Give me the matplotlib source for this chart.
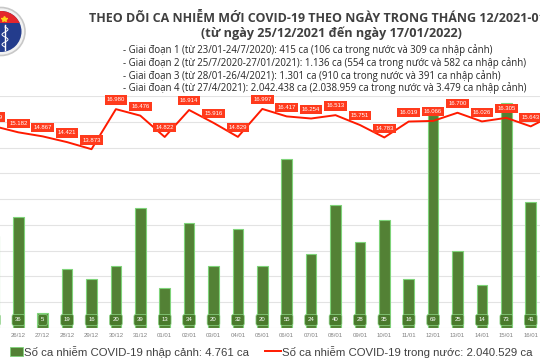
import matplotlib
matplotlib.use("Agg")
import matplotlib.pyplot as plt
import numpy as np
from matplotlib.patches import Circle, Rectangle

# data
dates = ["25/12", "26/12", "27/12", "28/12", "29/12", "30/12", "31/12",
         "01/01", "02/01", "03/01", "04/01", "05/01", "06/01", "07/01",
         "08/01", "09/01", "10/01", "11/01", "12/01", "13/01", "14/01",
         "15/01", "16/01", "17/01"]
imported = [30, 36, 5, 19, 16, 20, 39, 13, 34, 20, 32, 20, 55, 24, 40, 28,
            35, 16, 69, 25, 14, 73, 41, np.nan]
domestic = [15659, 15182, 14867, 14421, 13873, 16980, 16476, 14822, 16914,
            15916, 14829, 16997, 16417, 16254, 16513, 15751, 14783, 16019,
            16066, 16700, 16026, 16305, 15643, 16600]

title = "THEO DÕI CA NHIỄM MỚI COVID-19 THEO NGÀY TRONG THÁNG 12/2021-01/2022"
subtitle = "(từ ngày 25/12/2021 đến ngày 17/01/2022)"
phases = [
    "- Giai đoạn 1 (từ 23/01-24/7/2020): 415 ca (106 ca trong nước và 309 ca nhập cảnh)",
    "- Giai đoạn 2 (từ 25/7/2020-27/01/2021): 1.136 ca (554 ca trong nước và 582 ca nhập cảnh)",
    "- Giai đoạn 3 (từ 28/01-26/4/2021): 1.301 ca (910 ca trong nước và 391 ca nhập cảnh)",
    "- Giai đoạn 4 (từ 27/4/2021): 2.042.438 ca (2.038.959 ca trong nước và 3.479 ca nhập cảnh)",
]
leg_bar = "Số ca nhiễm COVID-19 nhập cảnh: 4.761 ca"
leg_line = "Số ca nhiễm COVID-19 trong nước: 2.040.529 ca"

bar_col = "#538135"
bar_edge = "#7fd47a"
red = "#ff1a00"
lab_red = "#ff3a1c"

def fmt(v):
    return "{:,}".format(v).replace(",", ".")

fig = plt.figure(figsize=(5.4, 3.6), dpi=100)
W, H = 540, 360
bot, top = 328, 96
ax = fig.add_axes([0, (H - bot) / H, 1, (bot - top) / H])
ax2 = ax.twinx()

x = np.arange(len(dates))
bar_top = 75.3
line_top = 18000
xlim = (0.25, 0.25 + 540 / 24.4)

ax.bar(x, imported, width=0.43, color=bar_col, edgecolor=bar_edge, linewidth=0.8, zorder=2)
ax.set_ylim(0, bar_top)
grid_vals = np.arange(0, line_top + 1, 2000)
ax.set_yticks(grid_vals * bar_top / line_top)
ax.yaxis.grid(True, color="#e3e3e3", linewidth=0.8, zorder=0)
ax.set_axisbelow(True)
ax.tick_params(axis="y", length=0, labelleft=False)
ax.set_xticks(x)
ax.set_xticklabels(dates, fontsize=4.3, color="#808080", family="Liberation Sans")
ax.tick_params(axis="x", length=0, pad=3.5)
for s in ax.spines.values():
    s.set_visible(False)

for i, v in enumerate(imported):
    if np.isnan(v):
        continue
    ax.annotate(str(v), xy=(i, 0), xytext=(0, 5.8), textcoords="offset points",
                ha="center", va="center", fontsize=4.3, color="white",
                family="Liberation Sans", zorder=3, annotation_clip=False,
                bbox=dict(boxstyle="round,pad=0.5,rounding_size=0.3",
                          fc="#4a7a2c", ec="#8fd98a", lw=0.5))

ax2.plot(x, domestic, color=red, linewidth=1.4, zorder=3)
ax2.set_ylim(0, line_top)
ax2.set_yticks([])
for s in ax2.spines.values():
    s.set_visible(False)
for i, v in enumerate(domestic):
    if i > xlim[1]:
        continue  # label of the last day falls outside the picture
    ax2.annotate(fmt(v), xy=(i, v), xytext=(0, 6.6), textcoords="offset points",
                 ha="center", va="center", fontsize=4.3, color="white",
                 family="Liberation Sans", zorder=4, annotation_clip=False,
                 bbox=dict(boxstyle="square,pad=0.35", fc=lab_red, ec="none"))

ax.set_xlim(xlim)
ax2.set_xlim(xlim)

# overlay in pixel coordinates for texts and logo
ov = fig.add_axes([0, 0, 1, 1], zorder=5)
ov.set_xlim(0, W)
ov.set_ylim(H, 0)
ov.axis("off")

ov.text(89, 21.7, title, fontsize=9.0, fontweight="bold", color="#404040",
        family=["Open Sans", "DejaVu Sans"], va="baseline", ha="left")
ov.text(201, 37.5, subtitle, fontsize=9.1, fontweight="bold", color="#404040",
        family=["Open Sans", "DejaVu Sans"], va="baseline", ha="left")
for k, t in enumerate(phases):
    ov.text(123, 53.5 + 12.5 * k, t, fontsize=6.9, color="#262626",
            family=["Open Sans", "DejaVu Sans"], va="baseline", ha="left")

ov.add_patch(Rectangle((10, 346.5), 12.5, 9, fc=bar_col, ec=bar_edge, lw=0.6))
ov.text(24, 355.5, leg_bar, fontsize=8.2, color="#404040",
        family="Liberation Sans", va="baseline", ha="left")
ov.plot([265, 281], [351, 351], color=red, linewidth=1.4)
ov.text(281.5, 355.5, leg_line, fontsize=8.2, color="#404040",
        family="Liberation Sans", va="baseline", ha="left")

# logo (rough)
ov.add_patch(Circle((1, 31.5), 24, fc="#f2f2f2", ec="#c8c8c8", lw=1.2))
blue = Circle((1, 31.5), 20.5, fc="#233c8c", ec="none")
ov.add_patch(blue)
band = Rectangle((-30, 0), 60, 23, fc="#e4262c", ec="none")
ov.add_patch(band)
band.set_clip_path(blue)
ov.plot([4], [18.5], marker="*", color="#ffd21a", markersize=4)
ov.plot([5, 5], [25, 50], color="white", linewidth=1.0)
tt = np.linspace(0, 1, 40)
ov.plot(5 + 3 * np.sin(tt * 4 * np.pi), 27 + 20 * tt, color="white", linewidth=0.7)

fig.savefig("out.png", dpi=100)
